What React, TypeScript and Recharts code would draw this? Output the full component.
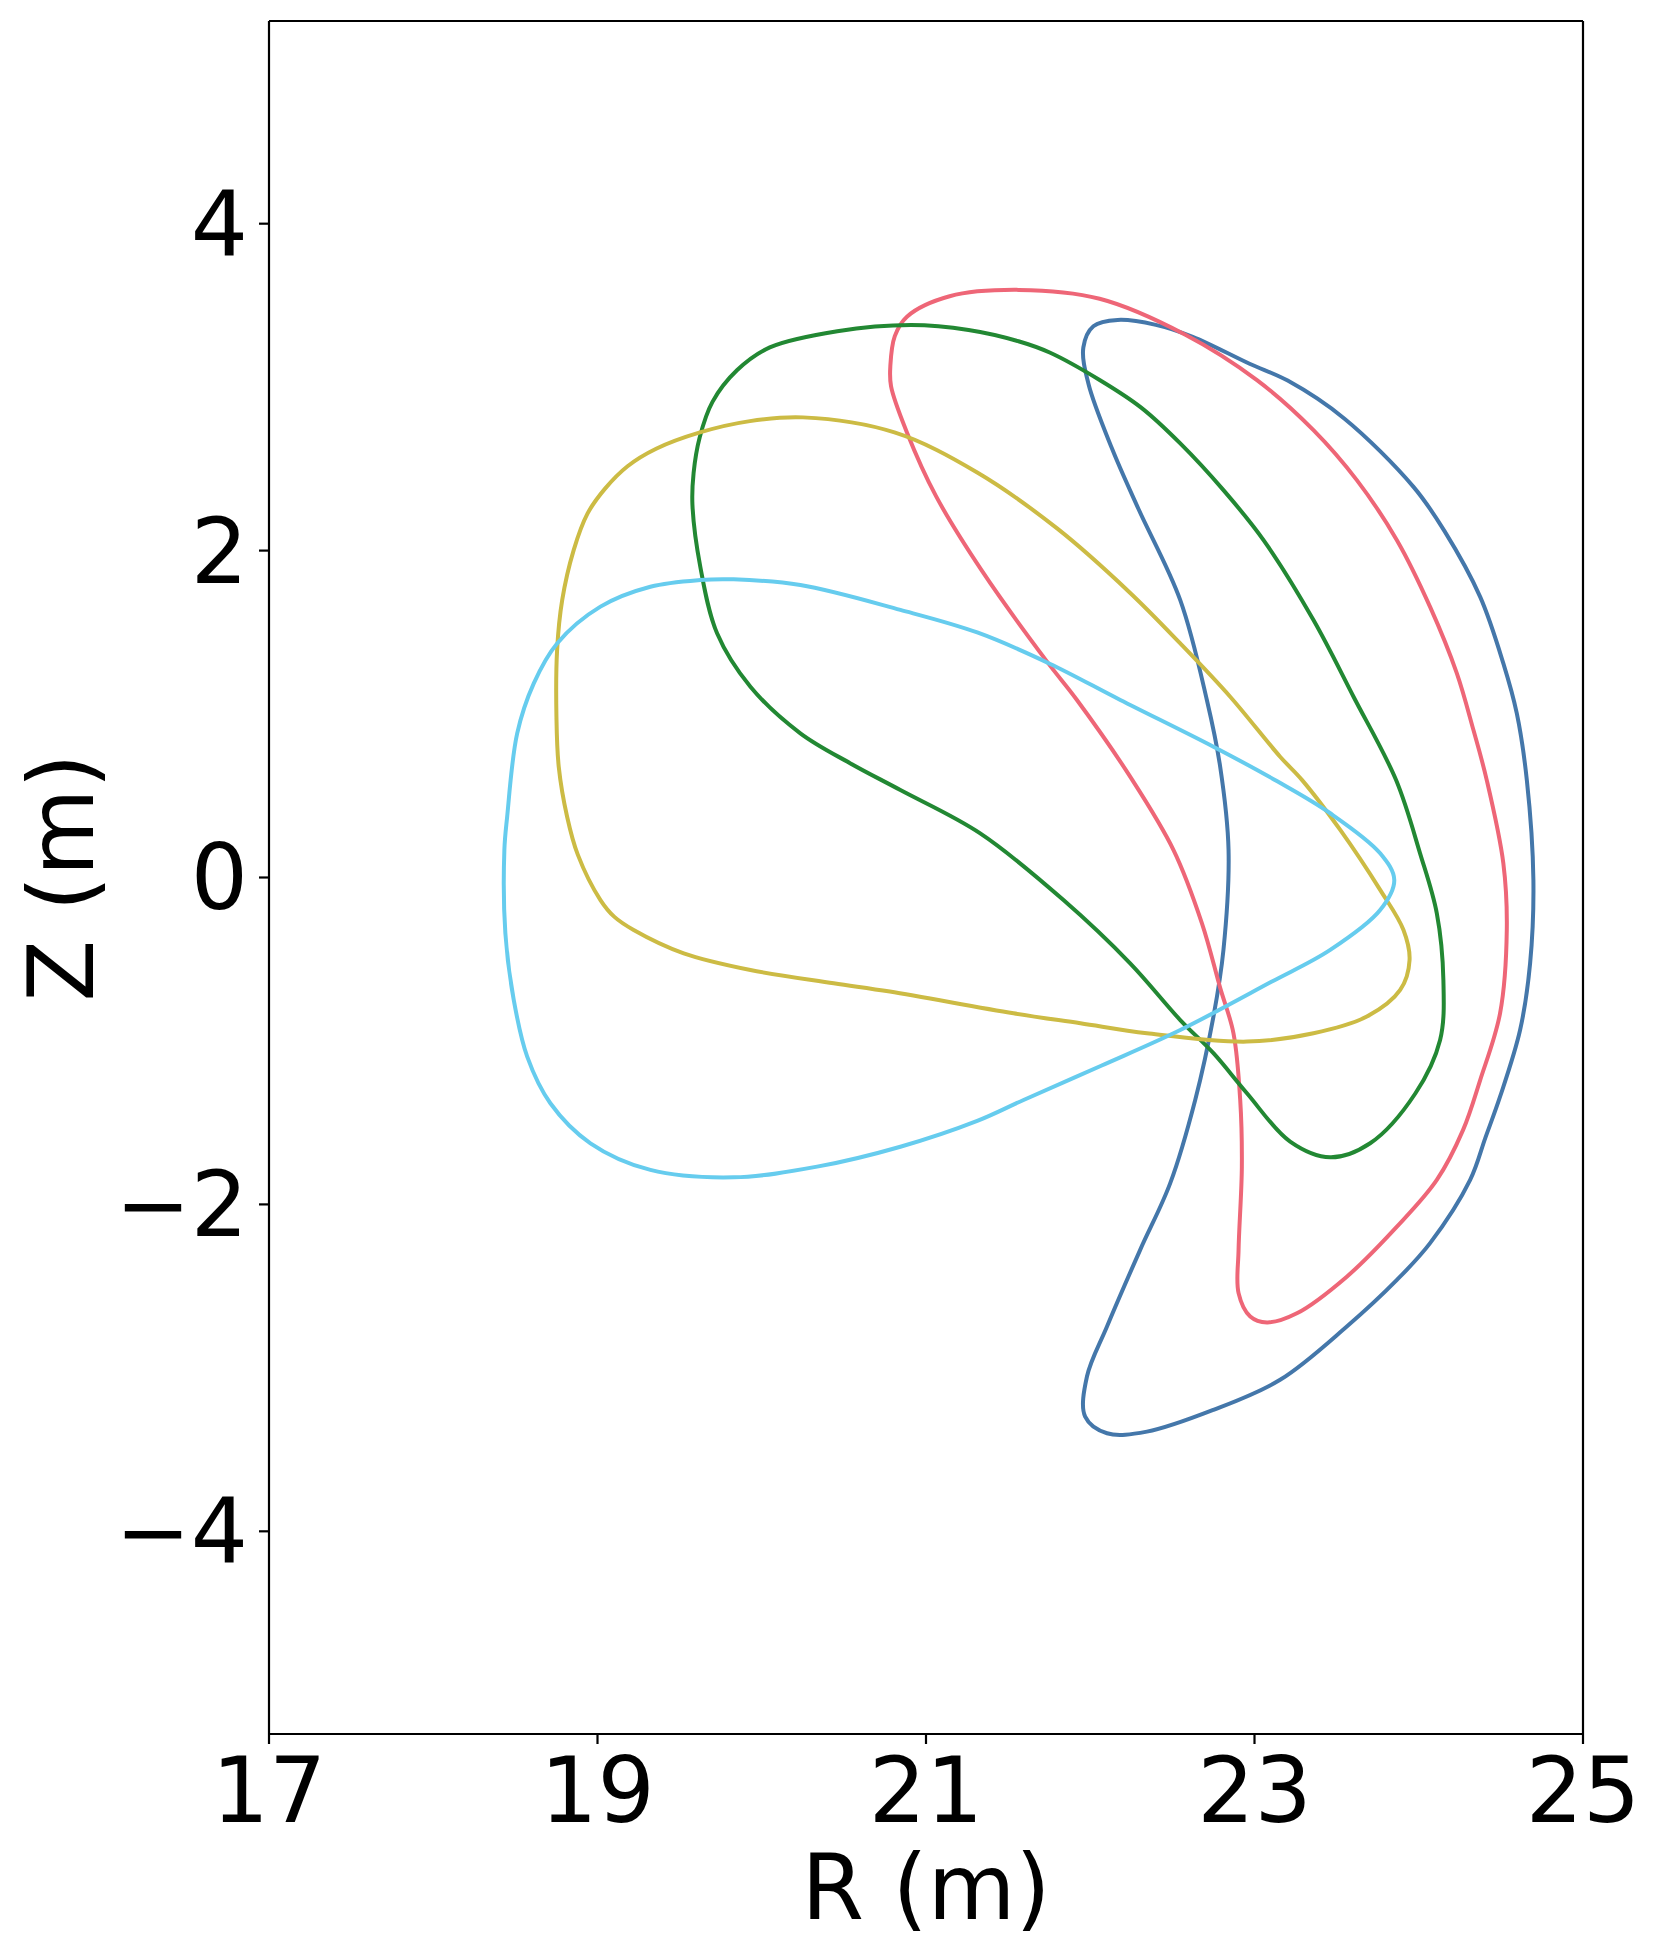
import React from 'react'
import { Label, Line, LineChart, ReferenceLine, XAxis, YAxis } from 'recharts'

const FONT = '"DejaVu Sans", Verdana, sans-serif'

const R_TICKS = [17, 19, 21, 23, 25]
const Z_TICKS = [-4, -2, 0, 2, 4]
const R_DOMAIN = [17, 25]
const Z_DOMAIN = [-5.24, 5.24]

// outlines, R and Z in metres
const BLUE_R = [21.958, 22.019, 22.167, 22.399, 22.624, 22.97, 23.202, 23.548, 23.968, 24.157, 24.374, 24.515, 24.597, 24.658, 24.698, 24.678, 24.617, 24.495, 24.406, 24.313, 24.069, 23.867, 23.562, 23.156, 22.75, 22.345, 22.102, 21.969, 21.98, 22.102, 22.304, 22.487, 22.639, 22.75, 22.811, 22.842, 22.791, 22.71, 22.548, 22.293, 22.133, 21.989]
const BLUE_Z = [3.243, 3.373, 3.411, 3.381, 3.308, 3.143, 3.04, 2.807, 2.39, 2.119, 1.717, 1.31, 1.004, 0.596, -0.015, -0.525, -0.933, -1.341, -1.591, -1.85, -2.237, -2.462, -2.747, -3.073, -3.257, -3.39, -3.4, -3.298, -3.053, -2.747, -2.278, -1.87, -1.361, -0.851, -0.443, 0.168, 0.678, 1.086, 1.697, 2.256, 2.623, 3.021]

const RED_R = [21.566, 22.057, 22.579, 23.015, 23.359, 23.623, 23.867, 24.069, 24.232, 24.333, 24.414, 24.515, 24.536, 24.495, 24.374, 24.27, 24.11, 23.867, 23.562, 23.258, 23.076, 22.974, 22.903, 22.903, 22.923, 22.913, 22.872, 22.791, 22.68, 22.507, 22.243, 21.919, 21.738, 21.342, 21.061, 20.884, 20.787, 20.783, 20.81, 20.884, 21.144]
const RED_Z = [3.595, 3.541, 3.321, 3.043, 2.737, 2.431, 2.064, 1.656, 1.249, 0.902, 0.596, 0.087, -0.321, -0.831, -1.239, -1.544, -1.85, -2.136, -2.442, -2.666, -2.722, -2.686, -2.543, -2.278, -1.769, -1.361, -0.953, -0.675, -0.28, 0.168, 0.617, 1.086, 1.319, 1.874, 2.333, 2.723, 3.006, 3.131, 3.312, 3.431, 3.556]

const GREEN_R = [20.909, 20.46, 20.049, 19.849, 19.7, 19.622, 19.585, 19.578, 19.626, 19.728, 19.931, 20.235, 20.54, 20.844, 21.33, 21.837, 22.243, 22.548, 22.75, 22.954, 23.217, 23.461, 23.704, 23.98, 24.13, 24.15, 24.11, 24.008, 23.862, 23.603, 23.359, 23.055, 22.811, 22.548, 22.31, 22.057, 21.753, 21.563, 21.259]
const GREEN_Z = [3.38, 3.342, 3.243, 3.103, 2.91, 2.692, 2.474, 2.28, 1.901, 1.494, 1.167, 0.882, 0.698, 0.535, 0.27, -0.138, -0.525, -0.872, -1.075, -1.32, -1.616, -1.712, -1.626, -1.32, -0.994, -0.627, -0.219, 0.148, 0.596, 1.106, 1.575, 2.064, 2.37, 2.656, 2.875, 3.044, 3.212, 3.281, 3.35]

const YELLOW_R = [20.251, 20.808, 21.312, 21.8, 22.24, 22.548, 22.852, 23.156, 23.29, 23.522, 23.765, 23.907, 23.944, 23.887, 23.684, 23.359, 22.954, 22.345, 21.94, 21.533, 20.78, 20.438, 19.931, 19.525, 19.22, 19.103, 19.018, 18.88, 18.815, 18.764, 18.75, 18.754, 18.785, 18.855, 18.939, 19.046, 19.183, 19.357, 19.624, 19.928]
const YELLOW_Z = [2.815, 2.723, 2.478, 2.134, 1.744, 1.432, 1.106, 0.739, 0.596, 0.291, -0.076, -0.321, -0.505, -0.688, -0.851, -0.953, -1.004, -0.953, -0.892, -0.831, -0.698, -0.647, -0.566, -0.464, -0.321, -0.241, -0.138, 0.14, 0.372, 0.678, 0.983, 1.391, 1.697, 2.003, 2.226, 2.379, 2.516, 2.623, 2.723, 2.792]

const CYAN_R = [19.322, 19.626, 19.829, 20.235, 20.844, 21.312, 21.753, 22.183, 22.75, 23.136, 23.461, 23.765, 23.851, 23.765, 23.461, 23.1, 22.548, 22.07, 21.594, 21.312, 20.844, 20.337, 19.829, 19.322, 18.957, 18.713, 18.572, 18.49, 18.439, 18.433, 18.45, 18.511, 18.612, 18.754, 19.018]
const CYAN_Z = [1.779, 1.82, 1.824, 1.789, 1.637, 1.499, 1.308, 1.086, 0.8, 0.59, 0.393, 0.148, -0.015, -0.199, -0.443, -0.64, -0.933, -1.15, -1.361, -1.489, -1.647, -1.769, -1.834, -1.789, -1.626, -1.381, -1.096, -0.749, -0.341, 0.168, 0.372, 0.882, 1.188, 1.432, 1.657]

const zip = (rs: number[], zs: number[]) => rs.map((r, i) => ({ r, z: zs[i] }))

const SHAPES = [
    { name: 'blue', color: '#4477AA', data: zip(BLUE_R, BLUE_Z) },
    { name: 'red', color: '#EE6677', data: zip(RED_R, RED_Z) },
    { name: 'green', color: '#228833', data: zip(GREEN_R, GREEN_Z) },
    { name: 'yellow', color: '#CCBB44', data: zip(YELLOW_R, YELLOW_Z) },
    { name: 'cyan', color: '#66CCEE', data: zip(CYAN_R, CYAN_Z) },
]

// closed centripetal Catmull-Rom: the outlines are closed loops and the
// read-off points are unevenly spaced, so the built-in curves kink
function closedSpline(context: any) {
    let pts: number[][] = []
    return {
        areaStart() {},
        areaEnd() {},
        lineStart() {
            pts = []
        },
        point(x: number, y: number) {
            pts.push([x, y])
        },
        lineEnd() {
            const n = pts.length
            if (!n) return
            const at = (i: number) => pts[((i % n) + n) % n]
            const dist = (a: number[], b: number[]) => Math.hypot(a[0] - b[0], a[1] - b[1])
            context.moveTo(pts[0][0], pts[0][1])
            for (let i = 0; i < n; i++) {
                const p0 = at(i - 1)
                const p1 = at(i)
                const p2 = at(i + 1)
                const p3 = at(i + 2)
                const d01 = dist(p0, p1)
                const d12 = dist(p1, p2)
                const d23 = dist(p2, p3)
                const s01 = Math.sqrt(d01)
                const s12 = Math.sqrt(d12)
                const s23 = Math.sqrt(d23)
                let c1 = p1
                let c2 = p2
                if (s01 > 1e-6) {
                    const a = 2 * d01 + 3 * s01 * s12 + d12
                    const m = 3 * s01 * (s01 + s12)
                    c1 = [(p1[0] * a - p0[0] * d12 + p2[0] * d01) / m, (p1[1] * a - p0[1] * d12 + p2[1] * d01) / m]
                }
                if (s23 > 1e-6) {
                    const b = 2 * d23 + 3 * s23 * s12 + d12
                    const m = 3 * s23 * (s23 + s12)
                    c2 = [(p2[0] * b + p1[0] * d23 - p3[0] * d12) / m, (p2[1] * b + p1[1] * d23 - p3[1] * d12) / m]
                }
                context.bezierCurveTo(c1[0], c1[1], c2[0], c2[1], p2[0], p2[1])
            }
            context.closePath()
        },
    }
}

const minus = (v: number) => String(v).replace('-', '\u2212')

const tickStyle = { fontSize: 90, fill: '#000', fontFamily: FONT }
const tickLineStyle = { stroke: '#000', strokeWidth: 2.2 }
const axisLineStyle = { stroke: '#000', strokeWidth: 2.2 }

function XTitle({ viewBox }: any) {
    const cx = viewBox.x + viewBox.width / 2
    return (
        <text x={cx} y={viewBox.y + 185} textAnchor="middle" fontSize={90} fontFamily={FONT} fill="#000">
            R (m)
        </text>
    )
}

function YTitle({ viewBox }: any) {
    const cx = viewBox.x + 61
    const cy = viewBox.y + viewBox.height / 2
    return (
        <text
            x={cx}
            y={cy}
            dy="0.36em"
            transform={`rotate(-90 ${cx} ${cy})`}
            textAnchor="middle"
            fontSize={90}
            fontFamily={FONT}
            fill="#000"
        >
            Z (m)
        </text>
    )
}

export default function App() {
    return (
        <div style={{ position: 'absolute', left: 0, top: 0, width: 1661, height: 1960, background: '#fff' }}>
            <LineChart width={1661} height={1960} margin={{ top: 21, right: 78, bottom: 0, left: 0 }}>
                <XAxis
                    type="number"
                    dataKey="r"
                    domain={R_DOMAIN}
                    ticks={R_TICKS}
                    allowDataOverflow
                    height={226}
                    tick={tickStyle}
                    tickLine={tickLineStyle}
                    axisLine={axisLineStyle}
                    tickSize={10}
                    tickMargin={14}
                >
                    <Label content={<XTitle />} />
                </XAxis>
                <YAxis
                    type="number"
                    dataKey="z"
                    domain={Z_DOMAIN}
                    ticks={Z_TICKS}
                    allowDataOverflow
                    width={269}
                    tick={tickStyle}
                    tickLine={tickLineStyle}
                    axisLine={axisLineStyle}
                    tickSize={10}
                    tickMargin={11}
                    tickFormatter={minus}
                >
                    <Label content={<YTitle />} />
                </YAxis>
                {/* top and right spines */}
                <ReferenceLine x={R_DOMAIN[1]} stroke="#000" strokeWidth={2.2} ifOverflow="visible" />
                <ReferenceLine y={Z_DOMAIN[1]} stroke="#000" strokeWidth={2.2} ifOverflow="visible" />
                {SHAPES.map((s) => (
                    <Line
                        key={s.name}
                        data={s.data}
                        dataKey="z"
                        type={closedSpline as any}
                        stroke={s.color}
                        strokeWidth={4}
                        dot={false}
                        activeDot={false}
                        isAnimationActive={false}
                    />
                ))}
            </LineChart>
        </div>
    )
}
